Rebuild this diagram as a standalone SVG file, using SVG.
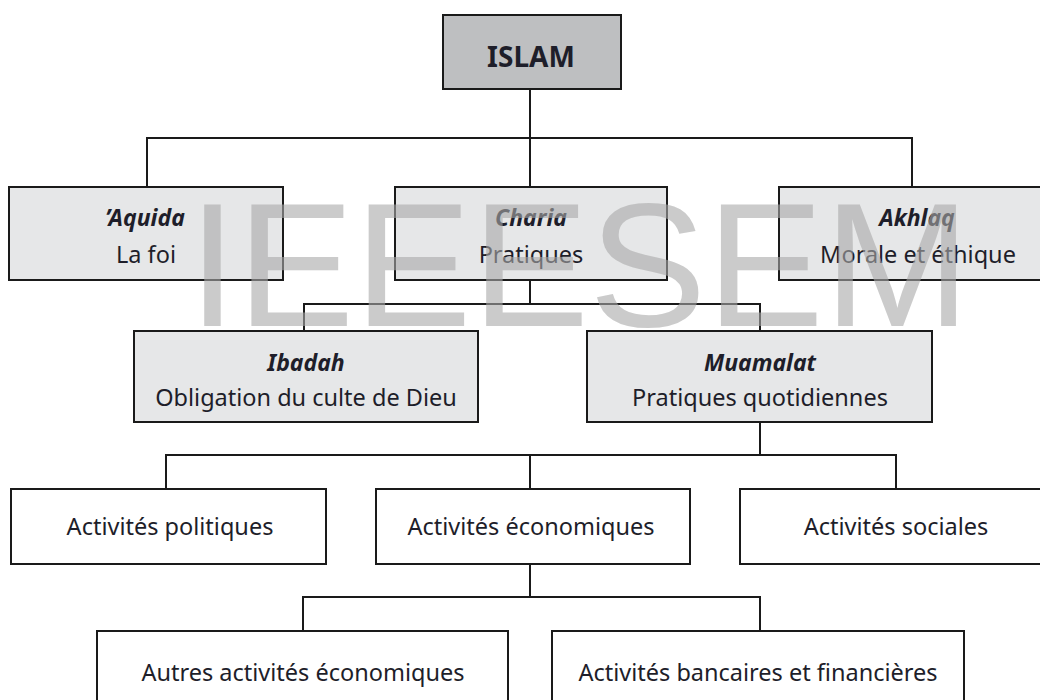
<svg xmlns="http://www.w3.org/2000/svg" width="1040" height="700" viewBox="0 0 1040 700">
<style>
.box{stroke:#1a1a1a;stroke-width:2}
.g1{fill:#bebfc1}
.g2{fill:#e6e7e8}
.w{fill:#ffffff}
text{font-family:"Noto Sans","Liberation Sans",sans-serif;fill:#1e1e2a;text-anchor:middle}
.t{font-size:23.5px}
.it{font-size:23px;font-style:italic;font-weight:bold}
.big{font-size:28px;font-weight:bold}
.conn{fill:none;stroke:#1a1a1a;stroke-width:2}
.wm{font-family:"Liberation Sans",sans-serif;font-size:176px;fill:#a8a8a8;fill-opacity:0.6;text-anchor:start}
</style>
<rect width="1040" height="700" fill="#ffffff"/>
<g id="connectors">
<path class="conn" d="M530 89V138M147 187V138H912V187M530 138V187"/>
<path class="conn" d="M530 280V304M304 331V304H760V331"/>
<path class="conn" d="M760 422V455M166 489V455H896V489M530 455V489"/>
<path class="conn" d="M530 564V597M303 631V597H760V631"/>
</g>
<g id="islam"><rect class="box g1" x="443" y="15" width="178" height="74"/><text class="big" x="531" y="67">ISLAM</text></g>
<g id="aquida"><rect class="box g2" x="9" y="187" width="274" height="93"/><text class="it" x="145" y="226">’Aquida</text><text class="t" x="146" y="263">La foi</text></g>
<g id="charia"><rect class="box g2" x="395" y="187" width="272" height="93"/><text class="it" x="531" y="226">Charia</text><text class="t" x="531" y="263">Pratiques</text></g>
<g id="akhlaq"><rect class="box g2" x="779" y="187" width="270" height="93"/><text class="it" x="917" y="226">Akhlaq</text><text class="t" x="918" y="263">Morale et éthique</text></g>
<g id="ibadah"><rect class="box g2" x="134" y="331" width="344" height="91"/><text class="it" x="306" y="371">Ibadah</text><text class="t" x="306" y="406">Obligation du culte de Dieu</text></g>
<g id="muamalat"><rect class="box g2" x="587" y="331" width="345" height="91"/><text class="it" x="760" y="371">Muamalat</text><text class="t" x="760" y="406">Pratiques quotidiennes</text></g>
<g id="politiques"><rect class="box w" x="11" y="489" width="315" height="75"/><text class="t" x="170" y="535">Activités politiques</text></g>
<g id="economiques"><rect class="box w" x="376" y="489" width="314" height="75"/><text class="t" x="531" y="535">Activités économiques</text></g>
<g id="sociales"><rect class="box w" x="740" y="489" width="310" height="75"/><text class="t" x="896" y="535">Activités sociales</text></g>
<g id="autres"><rect class="box w" x="97" y="631" width="411" height="80"/><text class="t" x="303" y="681">Autres activités économiques</text></g>
<g id="bancaires"><rect class="box w" x="552" y="631" width="412" height="80"/><text class="t" x="758" y="681">Activités bancaires et financières</text></g>
<text class="wm" x="188" y="326">IEEESEM</text>
</svg>
